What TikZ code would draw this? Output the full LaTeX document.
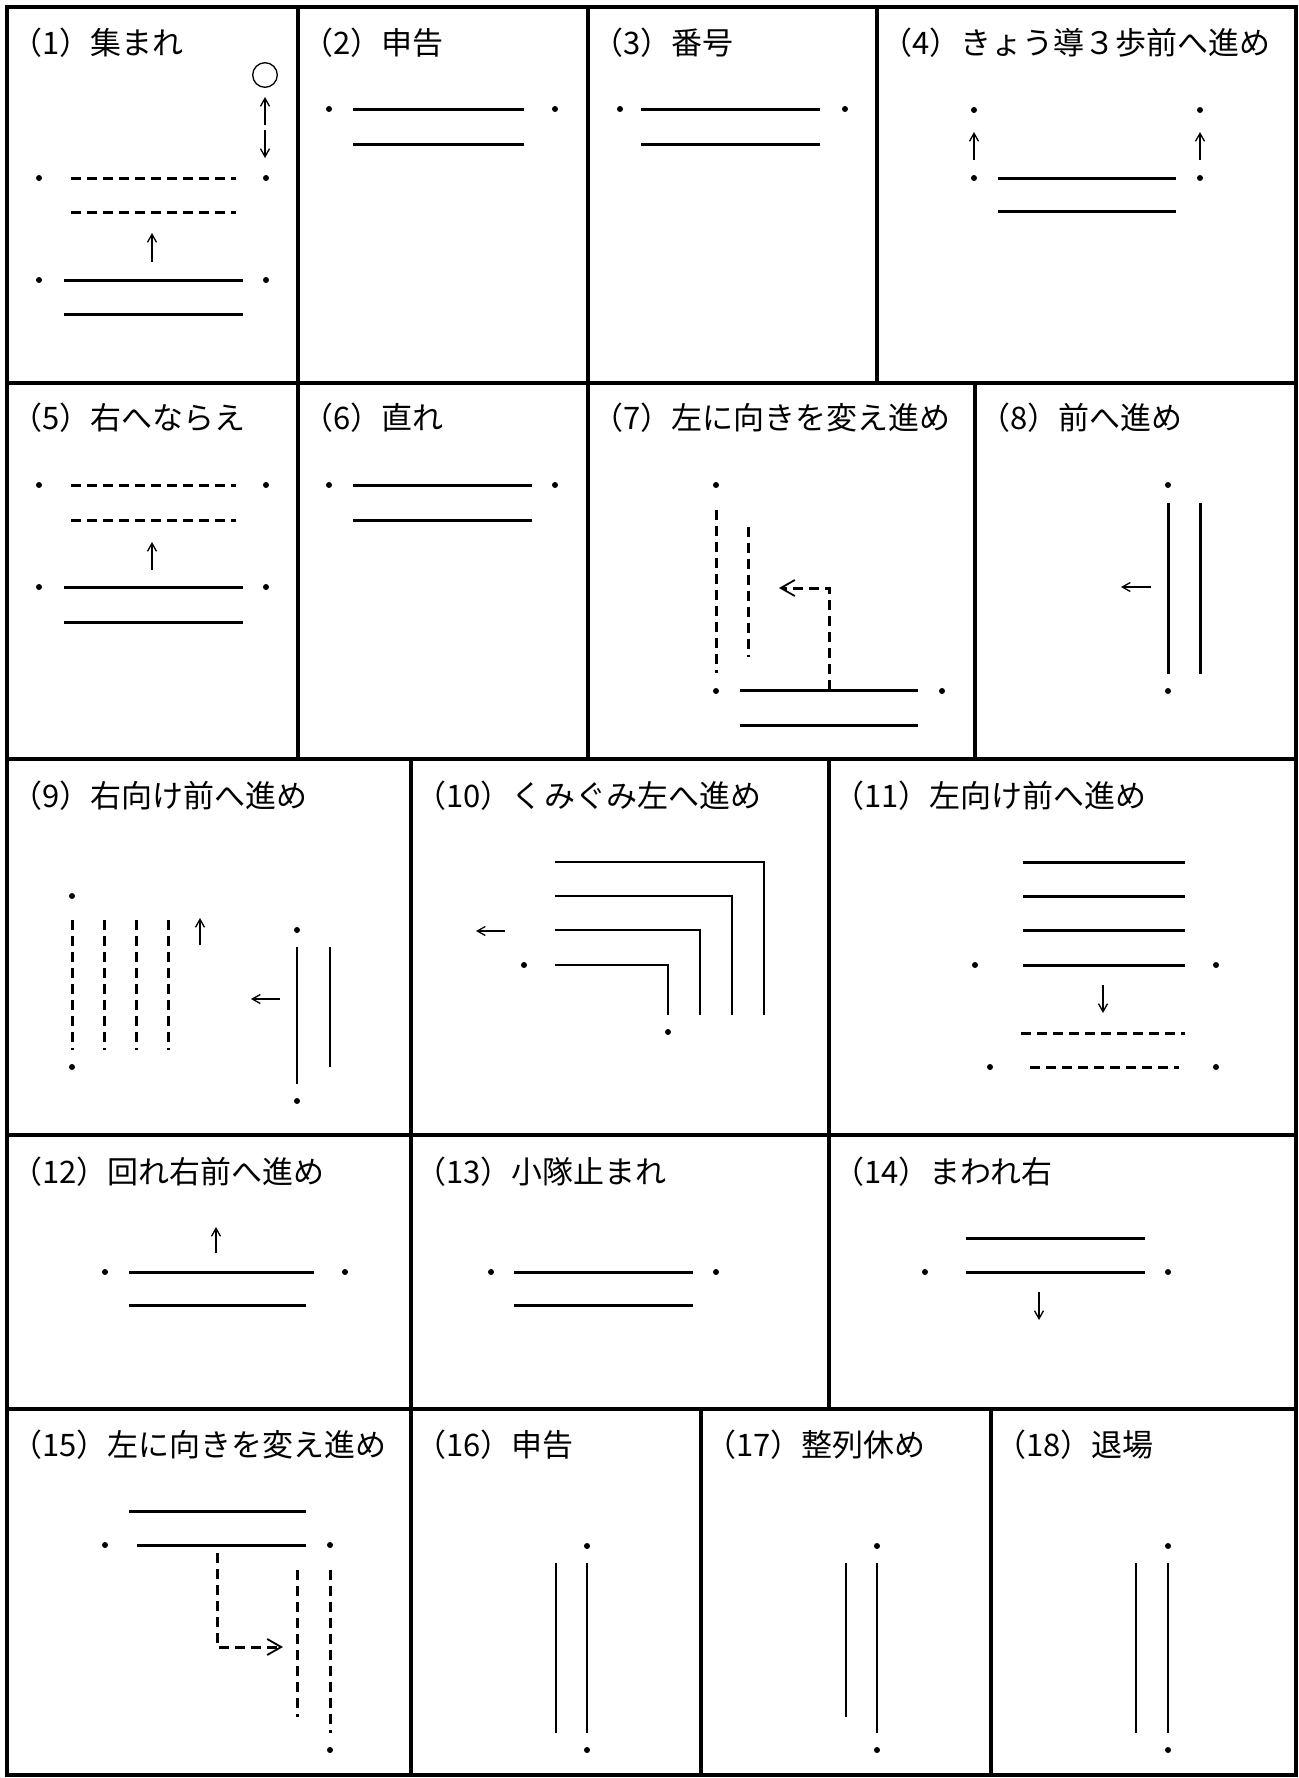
\documentclass[tikz,border=0pt]{standalone}
\usepackage{fontspec}
\usepackage{tikz}
\usetikzlibrary{arrows.meta}
\newfontfamily\jp{Noto Sans CJK JP}

\begin{document}
\begin{tikzpicture}[x=0.5pt, y=-0.5pt,
  cellline/.style={line width=1.6pt},
  rank/.style={line width=1.5pt},
  file/.style={line width=1.2pt},
  ghost/.style={line width=1.5pt, dash pattern=on 5pt off 3pt},
  move/.style={line width=0.65pt, -{Straight Barb[length=4pt,width=4.5pt]}},
  turn/.style={ghost, -{Straight Barb[length=7pt,width=8pt,line width=0.9pt]}},
  title/.style={anchor=west, inner sep=0pt, font=\jp\fontsize{15.5}{18}\selectfont}]
\useasboundingbox (0,0) rectangle (1299,1778);
\draw[cellline] (7,7) rectangle (1296,1775);
\draw[cellline] (7,383)--(1296,383);
\draw[cellline] (7,759)--(1296,759);
\draw[cellline] (7,1135)--(1296,1135);
\draw[cellline] (7,1409)--(1296,1409);
\draw[cellline] (298,7)--(298,383);
\draw[cellline] (588,7)--(588,383);
\draw[cellline] (877,7)--(877,383);
\draw[cellline] (298,383)--(298,759);
\draw[cellline] (588,383)--(588,759);
\draw[cellline] (975,383)--(975,759);
\draw[cellline] (411,759)--(411,1409);
\draw[cellline] (829,759)--(829,1409);
\draw[cellline] (411,1409)--(411,1775);
\draw[cellline] (701,1409)--(701,1775);
\draw[cellline] (991,1409)--(991,1775);
\node[title] (t1) at (11,43) {（1）集まれ};
\node[title] (t2) at (302,43) {（2）申告};
\node[title] (t3) at (592,43) {（3）番号};
\node[title] (t4) at (881,43) {（4）きょう導３歩前へ進め};
\node[title] (t5) at (11,418) {（5）右へならえ};
\node[title] (t6) at (302,418) {（6）直れ};
\node[title] (t7) at (592,418) {（7）左に向きを変え進め};
\node[title] (t8) at (979,418) {（8）前へ進め};
\node[title] (t9) at (11,796) {（9）右向け前へ進め};
\node[title] (t10) at (415,796) {（10）くみぐみ左へ進め};
\node[title] (t11) at (833,796) {（11）左向け前へ進め};
\node[title] (t12) at (11,1172) {（12）回れ右前へ進め};
\node[title] (t13) at (415,1172) {（13）小隊止まれ};
\node[title] (t14) at (833,1172) {（14）まわれ右};
\node[title] (t15) at (11,1445) {（15）左に向きを変え進め};
\node[title] (t16) at (415,1445) {（16）申告};
\node[title] (t17) at (705,1445) {（17）整列休め};
\node[title] (t18) at (995,1445) {（18）退場};
\draw[line width=0.65pt] (265,75) circle (12.3);
\draw[move] (265,125)--(265,97);
\draw[move] (265,130)--(265,158);
\fill (39,178) circle (3);
\fill (266,178) circle (3);
\draw[ghost] (71,178)--(236,178);
\draw[ghost] (71,212)--(236,212);
\draw[move] (152,262)--(152,233);
\fill (39,280) circle (3);
\fill (266,280) circle (3);
\draw[rank] (64,280)--(243,280);
\draw[rank] (64,314)--(243,314);
\fill (329,109) circle (3);
\fill (555,109) circle (3);
\draw[rank] (353,109)--(524,109);
\draw[rank] (353,144)--(524,144);
\fill (620,109) circle (3);
\fill (845,109) circle (3);
\draw[rank] (641,109)--(820,109);
\draw[rank] (641,144)--(820,144);
\fill (974,110) circle (3);
\fill (1200,110) circle (3);
\draw[move] (974,160)--(974,132);
\draw[move] (1200,160)--(1200,132);
\fill (974,178) circle (3);
\fill (1200,178) circle (3);
\draw[rank] (998,178)--(1176,178);
\draw[rank] (998,211)--(1176,211);
\fill (39,485) circle (3);
\fill (266,485) circle (3);
\draw[ghost] (71,485)--(236,485);
\draw[ghost] (71,520)--(236,520);
\draw[move] (152,570)--(152,542);
\fill (39,587) circle (3);
\fill (266,587) circle (3);
\draw[rank] (64,587)--(243,587);
\draw[rank] (64,622)--(243,622);
\fill (329,485) circle (3);
\fill (555,485) circle (3);
\draw[rank] (353,485)--(532,485);
\draw[rank] (353,520)--(532,520);
\fill (716,485) circle (3);
\draw[ghost] (716,510)--(716,673);
\draw[ghost] (748,527)--(748,657);
\draw[turn] (829,690)|-(779,588);
\fill (716,691) circle (3);
\fill (942,691) circle (3);
\draw[rank] (740,690)--(918,690);
\draw[rank] (740,725)--(918,725);
\fill (1168,485) circle (3);
\draw[rank] (1168,503)--(1168,674);
\draw[rank] (1200,503)--(1200,674);
\draw[move] (1151,587)--(1121,587);
\fill (1168,691) circle (3);
\fill (72,896) circle (3);
\draw[ghost] (72,920)--(72,1050);
\draw[ghost] (104,920)--(104,1050);
\draw[ghost] (136,920)--(136,1050);
\draw[ghost] (168,920)--(168,1050);
\draw[move] (200,945)--(200,918);
\fill (72,1067) circle (3);
\fill (297,930) circle (3);
\draw[file] (297,947)--(297,1084);
\draw[file] (330,947)--(330,1067);
\draw[move] (280,999)--(251,999);
\fill (297,1101) circle (3);
\draw[move] (505,931)--(476,931);
\fill (524,965) circle (3);
\draw[file] (555,862)--(764,862)--(764,1015);
\draw[file] (555,896)--(732,896)--(732,1015);
\draw[file] (555,930)--(700,930)--(700,1015);
\draw[file] (555,965)--(668,965)--(668,1015);
\fill (668,1032) circle (3);
\draw[rank] (1023,862)--(1185,862);
\draw[rank] (1023,896)--(1185,896);
\draw[rank] (1023,930)--(1185,930);
\draw[rank] (1023,965)--(1185,965);
\fill (975,965) circle (3);
\fill (1216,965) circle (3);
\draw[move] (1103,985)--(1103,1013);
\draw[ghost] (1021,1033)--(1185,1033);
\draw[ghost] (1030,1067)--(1179,1067);
\fill (990,1067) circle (3);
\fill (1216,1067) circle (3);
\draw[move] (216,1253)--(216,1227);
\fill (105,1272) circle (3);
\fill (345,1272) circle (3);
\draw[rank] (129,1272)--(314,1272);
\draw[rank] (129,1305)--(306,1305);
\fill (491,1272) circle (3);
\fill (716,1272) circle (3);
\draw[rank] (514,1272)--(693,1272);
\draw[rank] (514,1305)--(693,1305);
\draw[rank] (966,1238)--(1145,1238);
\draw[rank] (966,1272)--(1145,1272);
\fill (925,1272) circle (3);
\fill (1168,1272) circle (3);
\draw[move] (1039,1292)--(1039,1320);
\draw[rank] (129,1511)--(306,1511);
\draw[rank] (137,1545)--(306,1545);
\fill (105,1545) circle (3);
\fill (330,1545) circle (3);
\draw[turn] (217,1553)|-(283,1647);
\draw[ghost] (297,1570)--(297,1717);
\draw[ghost] (330,1570)--(330,1733);
\fill (330,1750) circle (3);
\fill (587,1546) circle (3);
\draw[file] (556,1563)--(556,1733);
\draw[file] (587,1563)--(587,1733);
\fill (587,1750) circle (3);
\fill (877,1546) circle (3);
\draw[file] (846,1563)--(846,1717);
\draw[file] (877,1563)--(877,1733);
\fill (877,1750) circle (3);
\fill (1168,1546) circle (3);
\draw[file] (1136,1563)--(1136,1733);
\draw[file] (1168,1563)--(1168,1733);
\fill (1168,1750) circle (3);
\end{tikzpicture}
\end{document}
